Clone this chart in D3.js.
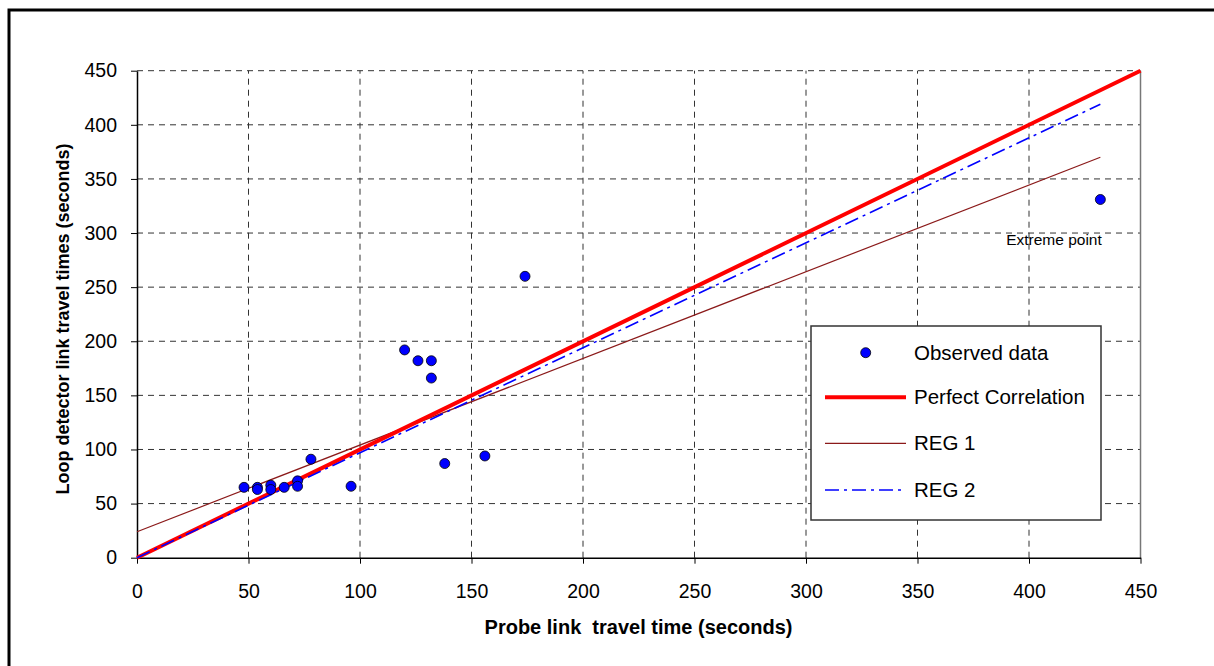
<!DOCTYPE html>
<html>
<head>
<meta charset="utf-8">
<script src="https://cdn.jsdelivr.net/npm/d3@7"></script>
<style>
  body { margin: 0; background: #fff; }
  svg { display: block; font-family: "Liberation Sans", Arial, sans-serif; }
</style>
</head>
<body>
<svg id="chart" width="1214" height="666"></svg>
<script>
// observed points
const probeTimes = [48, 54, 54, 60, 60, 66, 72, 72, 78, 96, 120, 126, 132, 132, 138, 156, 174, 432];
const loopTimes  = [65, 65, 63, 67, 63, 65, 71, 66, 91, 66, 192, 182, 182, 166, 87, 94, 260, 331];

// fitted / reference lines (end points)
const perfectX = [0, 450], perfectY = [0, 450];
const reg1X = [0, 432], reg1Y = [24, 370];
const reg2X = [0, 432], reg2Y = [0, 419];

const tickValues = [0, 50, 100, 150, 200, 250, 300, 350, 400, 450];
const legendLabels = ["Observed data", "Perfect Correlation", "REG 1", "REG 2"];

const svg = d3.select('#chart');

// outer frame (runs off the right/bottom of the picture)
svg.append('rect')
   .attr('x', 9).attr('y', 10)
   .attr('width', 1230).attr('height', 680)
   .attr('fill', 'none').attr('stroke', '#000').attr('stroke-width', 3);

const x = d3.scaleLinear().domain([0, 450]).range([137, 1140.5]);
const y = d3.scaleLinear().domain([0, 450]).range([557.7, 70.7]);

// grid
const grid = svg.append('g');
grid.selectAll('.hg').data(tickValues.slice(1))
    .enter().append('line')
    .attr('x1', x(0)).attr('x2', x(450))
    .attr('y1', d => y(d)).attr('y2', d => y(d))
    .attr('stroke', '#333').attr('stroke-width', 1)
    .attr('stroke-dasharray', '6,5');
grid.selectAll('.vg').data(tickValues.slice(1, -1))
    .enter().append('line')
    .attr('x1', d => x(d)).attr('x2', d => x(d))
    .attr('y1', y(0)).attr('y2', y(450))
    .attr('stroke', '#333').attr('stroke-width', 1)
    .attr('stroke-dasharray', '6,5');

// right edge of plot area
svg.append('line')
   .attr('x1', x(450)).attr('x2', x(450))
   .attr('y1', y(0)).attr('y2', y(450))
   .attr('stroke', '#777').attr('stroke-width', 1.5);

// axes
const xAxis = svg.append('g')
   .attr('transform', `translate(0,${y(0)})`)
   .call(d3.axisBottom(x).tickValues(tickValues).tickSize(6).tickPadding(20).tickSizeOuter(0));
const yAxis = svg.append('g')
   .attr('transform', `translate(${x(0)},0)`)
   .call(d3.axisLeft(y).tickValues(tickValues).tickSize(6).tickPadding(14).tickSizeOuter(0));

[xAxis, yAxis].forEach(a => {
    a.select('.domain').attr('stroke', '#000').attr('stroke-width', 1.5);
    a.selectAll('.tick line').attr('stroke', '#000');
    a.selectAll('text').attr('font-size', 19.5).attr('fill', '#000')
     .attr('font-family', '"Liberation Sans", Arial, sans-serif');
});

// lines
const lineGen = d3.line().x(d => x(d[0])).y(d => y(d[1]));

svg.append('path')
   .datum(reg1X.map((v, i) => [v, reg1Y[i]]))
   .attr('d', lineGen)
   .attr('fill', 'none').attr('stroke', '#8b1a1a').attr('stroke-width', 1.2);

svg.append('path')
   .datum(perfectX.map((v, i) => [v, perfectY[i]]))
   .attr('d', lineGen)
   .attr('fill', 'none').attr('stroke', '#ff0000').attr('stroke-width', 4);

svg.append('path')
   .datum(reg2X.map((v, i) => [v, reg2Y[i]]))
   .attr('d', lineGen)
   .attr('fill', 'none').attr('stroke', '#0000ff').attr('stroke-width', 1.6)
   .attr('stroke-dasharray', '14,5,3,5');

// points
svg.append('g').selectAll('circle')
   .data(probeTimes.map((v, i) => [v, loopTimes[i]]))
   .enter().append('circle')
   .attr('cx', d => x(d[0])).attr('cy', d => y(d[1]))
   .attr('r', 5)
   .attr('fill', '#0000ff').attr('stroke', '#000').attr('stroke-width', 0.8);

// annotation
svg.append('text')
   .attr('x', 1054).attr('y', 245)
   .attr('text-anchor', 'middle').attr('font-size', 15.5)
   .text('Extreme point');

// axis titles
svg.append('text')
   .attr('x', 638.5).attr('y', 634)
   .attr('text-anchor', 'middle').attr('font-size', 20).attr('font-weight', 'bold')
   .attr('xml:space', 'preserve').style('white-space', 'pre')
   .text('Probe link  travel time (seconds)');

svg.append('text')
   .attr('transform', 'translate(69,319) rotate(-90)')
   .attr('text-anchor', 'middle').attr('font-size', 18).attr('font-weight', 'bold')
   .text('Loop detector link travel times (seconds)');

// legend
const legend = svg.append('g');
legend.append('rect')
   .attr('x', 811).attr('y', 326)
   .attr('width', 290).attr('height', 194)
   .attr('fill', '#fff').attr('stroke', '#333').attr('stroke-width', 1.5);

const rowY = [352.7, 397.3, 443.3, 490];
legend.append('circle')
   .attr('cx', 865.7).attr('cy', rowY[0]).attr('r', 5)
   .attr('fill', '#0000ff').attr('stroke', '#000').attr('stroke-width', 0.8);
legend.append('line')
   .attr('x1', 825).attr('x2', 906).attr('y1', rowY[1]).attr('y2', rowY[1])
   .attr('stroke', '#ff0000').attr('stroke-width', 4);
legend.append('line')
   .attr('x1', 825).attr('x2', 906).attr('y1', rowY[2]).attr('y2', rowY[2])
   .attr('stroke', '#8b1a1a').attr('stroke-width', 1.2);
legend.append('line')
   .attr('x1', 825).attr('x2', 906).attr('y1', rowY[3]).attr('y2', rowY[3])
   .attr('stroke', '#0000ff').attr('stroke-width', 1.6)
   .attr('stroke-dasharray', '14,5,3,5');

legend.selectAll('.lt').data(legendLabels)
   .enter().append('text')
   .attr('x', 914).attr('y', (d, i) => rowY[i])
   .attr('dy', '0.35em').attr('font-size', 20.5)
   .text(d => d);
</script>
</body>
</html>
